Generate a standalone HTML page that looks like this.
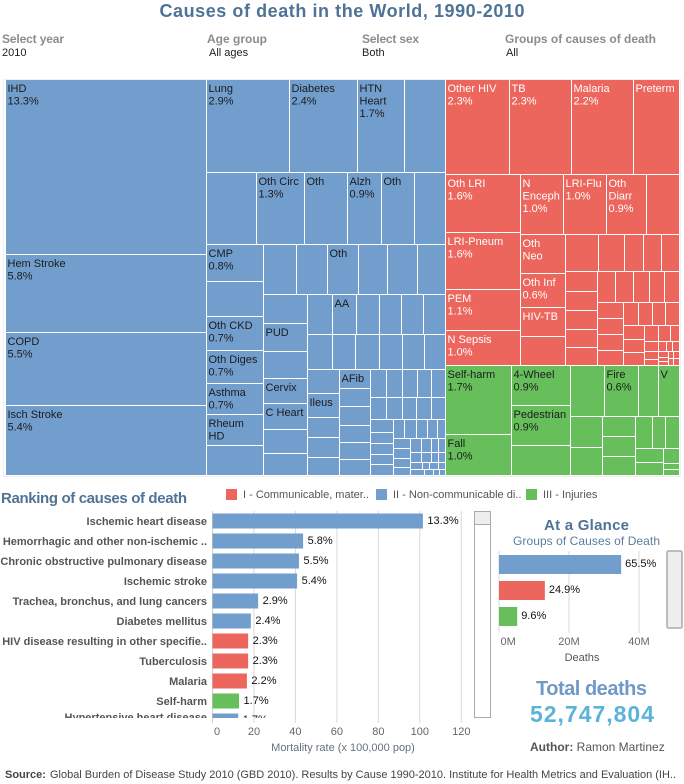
<!DOCTYPE html>
<html lang="en">
<head>
<meta charset="utf-8">
<title>Causes of death in the World, 1990-2010</title>
<style>
html,body{margin:0;padding:0;background:#fff;width:684px;height:784px;overflow:hidden}
svg{display:block;font-family:"Liberation Sans",Arial,sans-serif}
.flabel{font-size:12px;fill:#8c8c8c;font-weight:bold}
.fvalue{font-size:11px;fill:#222}
.heading{font-weight:bold;fill:#4f7396}
.cell{shape-rendering:crispEdges}
</style>
</head>
<body>
<svg id="page" xmlns="http://www.w3.org/2000/svg" width="684" height="784" viewBox="0 0 684 784">
  <defs>
    <clipPath id="rank-clip"><rect x="205" y="511" width="265" height="207"/></clipPath>
    <clipPath id="rank-label-clip"><rect x="0" y="511" width="212" height="207"/></clipPath>
  </defs>

  <text x="342" y="17" text-anchor="middle" class="heading" font-size="18" textLength="365" lengthAdjust="spacing">Causes of death in the World, 1990-2010</text>

  <text x="2" y="43" class="flabel" textLength="62" lengthAdjust="spacing">Select year</text>
  <text x="2" y="56" class="fvalue">2010</text>
  <text x="207" y="43" class="flabel">Age group</text>
  <text x="209" y="56" class="fvalue">All ages</text>
  <text x="362" y="43" class="flabel" textLength="57" lengthAdjust="spacing">Select sex</text>
  <text x="362" y="56" class="fvalue">Both</text>
  <text x="505" y="43" class="flabel" textLength="151" lengthAdjust="spacing">Groups of causes of death</text>
  <text x="506" y="56" class="fvalue">All</text>

  <rect x="3.5" y="79.5" width="677" height="397" fill="#fff" stroke="#eeeeee"/>
  <g id="treemap"></g>

  <text x="1" y="503" class="heading" font-size="15" textLength="186" lengthAdjust="spacing">Ranking of causes of death</text>

  <g font-size="11" fill="#555">
    <rect x="226" y="489" width="11" height="11" fill="#ED665D"/>
    <text x="243" y="498">I - Communicable, mater..</text>
    <rect x="376" y="489" width="11" height="11" fill="#729ECE"/>
    <text x="393" y="498">II - Non-communicable di..</text>
    <rect x="526" y="489" width="11" height="11" fill="#67BF5C"/>
    <text x="543" y="498">III - Injuries</text>
  </g>

  <g id="rank-chart"></g>
  <text x="343" y="751" text-anchor="middle" font-size="11" fill="#66717e">Mortality rate (x 100,000 pop)</text>

  <rect x="474.5" y="511.5" width="16" height="206" fill="#fff" stroke="#aaa"/>
  <rect x="474.5" y="511.5" width="16" height="13" fill="#eeeeee" stroke="#aaa"/>

  <text x="586.5" y="530" text-anchor="middle" class="heading" font-size="15" textLength="85" lengthAdjust="spacing">At a Glance</text>
  <text x="586.5" y="545" text-anchor="middle" font-size="12" fill="#5a7da0" textLength="147" lengthAdjust="spacing">Groups of Causes of Death</text>

  <g id="glance-chart"></g>
  <text x="582" y="661" text-anchor="middle" font-size="11" fill="#555">Deaths</text>

  <rect x="667" y="551" width="15" height="77" rx="1.5" fill="#eeeeee" stroke="#aaa" stroke-width="1.5"/>

  <text x="591.5" y="695" text-anchor="middle" font-size="20" font-weight="bold" fill="#7199c6" textLength="111" lengthAdjust="spacing">Total deaths</text>
  <text x="592" y="722" text-anchor="middle" font-size="23" font-weight="bold" fill="#5ab4d8" textLength="124" lengthAdjust="spacing">52,747,804</text>

  <text x="530" y="751" font-size="12" fill="#555"><tspan font-weight="bold">Author:</tspan> Ramon Martinez</text>

  <text x="5" y="778" font-size="11" fill="#444"><tspan font-weight="bold">Source:</tspan><tspan x="50" textLength="626" lengthAdjust="spacing">Global Burden of Disease Study 2010 (GBD 2010). Results by Cause 1990-2010. Institute for Health Metrics and Evaluation (IH..</tspan></text>
</svg>

<script>
/* ---------- Treemap values: relative death weight of each cell ---------- */
const blueCol1 = [351.75, 154.77, 146.73, 140.7];
const blueCol1Labels = ['IHD\n13.3%', 'Hem Stroke\n5.8%', 'COPD\n5.5%', 'Isch Stroke\n5.4%'];
const blueRowA = [76.725, 63.705, 43.71, 38.13];
const blueRowALabels = ['Lung\n2.9%', 'Diabetes\n2.4%', 'HTN\nHeart\n1.7%', ''];
const blueRowB = [36, 34.56, 30.96, 24.48, 23.76, 22.32];
const blueRowBLabels = ['', 'Oth Circ\n1.3%', 'Oth', 'Alzh\n0.9%', 'Oth', ''];
const blueColC = [20.52, 19.95, 19.38, 18.81, 17.67, 17.67, 17.1];
const blueColCLabels = ['CMP\n0.8%', '', 'Oth CKD\n0.7%', 'Oth Diges\n0.7%', 'Asthma\n0.7%', 'Rheum\nHD', ''];
const blueRowD = [16.17, 15.19, 15.19, 14.21, 14.7, 13.72];
const blueRowDLabels = ['', '', 'Oth', '', '', ''];
const blueColE = [12.76, 12.32, 11.88, 11, 11.44, 10.56, 9.68];
const blueColELabels = ['', 'PUD', '', 'Cervix', 'C Heart', '', ''];
const blueRowF = [10, 9.6, 9.2, 8.8, 8.8, 8.8];
const blueRowFLabels = ['', 'AA', '', '', '', ''];
const blueRowG = [8.75, 8.05, 8.4, 8.05, 7.7, 7.35];
const blueColH = [7.68, 7.68, 6.4, 6.4, 5.76];
const blueColHLabels = ['', 'Ileus', '', '', ''];
const blueColI = [5.89, 5.58, 5.89, 5.27, 5.27, 4.96];
const blueColILabels = ['AFib', '', '', '', '', ''];
const blueRowJ = [4.48, 4.48, 4.2, 3.92, 3.92];
const blueRowK = [3.52, 3.52, 3.08, 3.3, 3.08];
const blueColL = [2.99, 2.53, 2.53, 2.3, 2.53];
const blueRowM = [2.09, 2.28, 2.09, 1.9, 1.52];
const blueColN = [1.7, 1.7, 1.53, 1.36];
const blueRowO = [1.54, 1.4, 0.98, 0.98];
const blueRowP = [1.1, 1.0, 0.7, 0.7];
const blueRowQ = [0.84, 0.49, 0.63, 0.49];
const blueRowR = [0.84, 0.54, 0.36, 0.36];

const redRowA = [60.8, 58.9, 58.9, 43.7];
const redRowALabels = ['Other HIV\n2.3%', 'TB\n2.3%', 'Malaria\n2.2%', 'Preterm'];
const redColC = [43.5, 42, 30.75, 26.25];
const redColCLabels = ['Oth LRI\n1.6%', 'LRI-Pneum\n1.6%', 'PEM\n1.1%', 'N Sepsis\n1.0%'];
const redRowD = [25.8, 25.8, 24, 19.8];
const redRowDLabels = ['N\nEnceph\n1.0%', 'LRI-Flu\n1.0%', 'Oth\nDiarr\n0.9%', ''];
const redColE = [17.55, 14.85, 13.05, 13.05];
const redColELabels = ['Oth\nNeo', 'Oth Inf\n0.6%', 'HIV-TB', ''];
const redRowF = [12.21, 9.62, 7.03, 6.66, 6.66];
const redColH = [6.08, 6.08, 6.08, 5.76, 5.76];
const redRowG = [5.4, 5.4, 4.8, 4.5, 4.5];
const redColI = [4.16, 4.16, 4.16, 3.9];
const redRowJ = [3.45, 3.22, 2.99, 3.22];
const redColK = [2.94, 2.73, 2.73];
const redRowL = [2.24, 1.92, 1.44];
const redColM = [1.4, 1.12, 0.84];
const redRowN = [0.8, 0.6, 0.7];
const redColO = [0.6, 0.4, 0.4];
const redRowP = [0.35, 0.42];
const redRowQ = [0.35, 0.42];

const greenColA = [45.54, 27.06];
const greenColALabels = ['Self-harm\n1.7%', 'Fall\n1.0%'];
const greenColB = [23.6, 23.6, 17.7];
const greenColBLabels = ['4-Wheel\n0.9%', 'Pedestrian\n0.9%', ''];
const greenRowC = [17.34, 17.34, 10.2, 10.71];
const greenRowCLabels = ['', 'Fire\n0.6%', '', 'V'];
const greenColD = [9.92, 8.96];
const greenColE = [6.6, 6.6, 6.27];
const greenRowF = [5.44, 4.16, 4.48];
const greenColG = [3.92, 3.64];
const greenColH = [2.4, 0.96, 0.96];

/* ---------- Ranking bar chart data ---------- */
const rankCauses = ['Ischemic heart disease', 'Hemorrhagic and other non-ischemic ..', 'Chronic obstructive pulmonary disease', 'Ischemic stroke', 'Trachea, bronchus, and lung cancers', 'Diabetes mellitus', 'HIV disease resulting in other specifie..', 'Tuberculosis', 'Malaria', 'Self-harm', 'Hypertensive heart disease'];
const rankRates = [101.5, 43.7, 41.7, 40.8, 22, 18.5, 17.2, 17.2, 16.6, 12.8, 12.4];
const rankShares = ['13.3%', '5.8%', '5.5%', '5.4%', '2.9%', '2.4%', '2.3%', '2.3%', '2.2%', '1.7%', '1.7%'];
const rankGroups = ['II', 'II', 'II', 'II', 'II', 'II', 'I', 'I', 'I', 'III', 'II'];
const rankTicks = [0, 20, 40, 60, 80, 100, 120];

/* ---------- At-a-glance bar chart data ---------- */
const glanceGroups = ['II', 'I', 'III'];
const glanceDeaths = [34.9, 13.1, 5.2];
const glanceShares = ['65.5%', '24.9%', '9.6%'];
const glanceTicks = [0, 20, 40];

const groupColors = { I: '#ED665D', II: '#729ECE', III: '#67BF5C' };
const SVGNS = 'http://www.w3.org/2000/svg';

function mk(tag, attrs, parent) {
  const el = document.createElementNS(SVGNS, tag);
  for (const k in attrs) el.setAttribute(k, attrs[k]);
  parent.appendChild(el);
  return el;
}

/* ---------- Treemap layout: each node is sized by the sum of its leaves ---------- */
function H() { return { dir: 'h', kids: [...arguments] }; }
function V() { return { dir: 'v', kids: [...arguments] }; }
function strip(dir, values, labels) {
  return { dir: dir, kids: values.map((v, i) => ({ value: v, label: labels ? labels[i] : '' })) };
}
function total(n) {
  return n.kids ? n.kids.reduce((s, k) => s + total(k), 0) : n.value;
}

const blueTree = H(
  strip('v', blueCol1, blueCol1Labels),
  V(
    strip('h', blueRowA, blueRowALabels),
    strip('h', blueRowB, blueRowBLabels),
    H(
      strip('v', blueColC, blueColCLabels),
      V(
        strip('h', blueRowD, blueRowDLabels),
        H(
          strip('v', blueColE, blueColELabels),
          V(
            strip('h', blueRowF, blueRowFLabels),
            strip('h', blueRowG),
            H(
              strip('v', blueColH, blueColHLabels),
              strip('v', blueColI, blueColILabels),
              V(
                strip('h', blueRowJ),
                strip('h', blueRowK),
                H(
                  strip('v', blueColL),
                  V(
                    strip('h', blueRowM),
                    H(
                      strip('v', blueColN),
                      V(strip('h', blueRowO), strip('h', blueRowP), strip('h', blueRowQ), strip('h', blueRowR))
                    )
                  )
                )
              )
            )
          )
        )
      )
    )
  )
);

const redTree = V(
  strip('h', redRowA, redRowALabels),
  H(
    strip('v', redColC, redColCLabels),
    V(
      strip('h', redRowD, redRowDLabels),
      H(
        strip('v', redColE, redColELabels),
        V(
          strip('h', redRowF),
          H(
            strip('v', redColH),
            V(
              strip('h', redRowG),
              H(
                strip('v', redColI),
                V(
                  strip('h', redRowJ),
                  H(
                    strip('v', redColK),
                    V(
                      strip('h', redRowL),
                      H(
                        strip('v', redColM),
                        V(
                          strip('h', redRowN),
                          H(strip('v', redColO), V(strip('h', redRowP), strip('h', redRowQ)))
                        )
                      )
                    )
                  )
                )
              )
            )
          )
        )
      )
    )
  )
);

const greenTree = H(
  strip('v', greenColA, greenColALabels),
  strip('v', greenColB, greenColBLabels),
  V(
    strip('h', greenRowC, greenRowCLabels),
    H(
      strip('v', greenColD),
      strip('v', greenColE),
      V(strip('h', greenRowF), H(strip('v', greenColG), strip('v', greenColH)))
    )
  )
);

const treemapG = document.getElementById('treemap');

function drawLeaf(leaf, x, y, w, h, color, textColor) {
  const x0 = Math.round(x) + 1, y0 = Math.round(y) + 1;
  const x1 = Math.round(x + w), y1 = Math.round(y + h);
  const r = mk('rect', { x: x0, y: y0, width: Math.max(x1 - x0, 0), height: Math.max(y1 - y0, 0), fill: color, class: 'cell' }, treemapG);
  
  
  if (leaf.label) {
    const t = mk('text', { x: x0 + 1.5, y: y0 + 12, 'font-size': 11, fill: textColor }, treemapG);
    
    
    leaf.label.split('\n').forEach((line, i) => {
      const s = mk('tspan', { x: x0 + 1.5, dy: i ? 12.5 : 0 }, t);
      s.textContent = line;
    });
  }
}

function layout(node, x, y, w, h, color, textColor) {
  if (!node.kids) { drawLeaf(node, x, y, w, h, color, textColor); return; }
  const sum = total(node);
  let pos = 0;
  node.kids.forEach(k => {
    const f = total(k) / sum;
    if (node.dir === 'h') layout(k, x + pos * w, y, w * f, h, color, textColor);
    else layout(k, x, y + pos * h, w, h * f, color, textColor);
    pos += f;
  });
}

/* Overall treemap: blue on the left, red over green on the right */
(function () {
  const X = 5, Y = 79, W = 674, H_ = 396;
  const b = total(blueTree), r = total(redTree), g = total(greenTree);
  const blueW = W * b / (b + r + g);
  const restW = W - blueW;
  const redH = H_ * r / (r + g);
  layout(blueTree, X, Y, blueW, H_, groupColors.II, '#1c1c1c');
  layout(redTree, X + blueW, Y, restW, redH, groupColors.I, '#ffffff');
  layout(greenTree, X + blueW, Y + redH, restW, H_ - redH, groupColors.III, '#1c1c1c');
})();

/* ---------- Ranking bar chart ---------- */
(function () {
  const root = document.getElementById('rank-chart');
  const x0 = 212.5, perUnit = 2.073, yTop = 513.5, pitch = 20, barH = 15;
  const xScale = v => x0 + v * perUnit;
  const yScale = i => yTop + i * pitch;

  rankTicks.forEach(t => {
    const line = mk('line', { x1: xScale(t), x2: xScale(t), y1: 511, y2: 723, stroke: t === 0 ? '#cfcfcf' : '#d9d9d9', 'stroke-width': 1 }, root);
    
    
    const lab = mk('text', { x: t === 0 ? xScale(t) + 1.5 : xScale(t), y: 735, 'text-anchor': t === 0 ? 'start' : 'middle', 'font-size': 11, fill: '#666' }, root);
    lab.textContent = String(t);
    
    
  });

  const barsG = mk('g', { 'clip-path': 'url(#rank-clip)' }, root);
  const labsG = mk('g', { 'clip-path': 'url(#rank-label-clip)' }, root);

  rankCauses.forEach((c, i) => {
    const cy = yScale(i);
    const cat = mk('text', { x: 207, y: Math.min(cy + 11.5, 721), 'text-anchor': 'end', 'font-size': 11, 'font-weight': 'bold', fill: '#555' }, labsG);
    cat.textContent = c;
    
    

    const bar = mk('rect', { x: x0, y: cy, width: rankRates[i] * perUnit, height: barH, fill: groupColors[rankGroups[i]] }, barsG);
    
    

    const val = mk('text', { x: xScale(rankRates[i]) + 4.5, y: Math.min(cy + 10.5, 723), 'font-size': 11, fill: '#111' }, barsG);
    val.textContent = rankShares[i];
    
    
  });
})();

/* ---------- At-a-glance bar chart ---------- */
(function () {
  const root = document.getElementById('glance-chart');
  const x0 = 499, perM = 3.5, yTop = 555, pitch = 26, barH = 19;
  const xScale = v => x0 + v * perM;

  glanceTicks.forEach(t => {
    const line = mk('line', { x1: xScale(t), x2: xScale(t), y1: 551, y2: 633, stroke: '#d9d9d9', 'stroke-width': 1 }, root);
    
    
    const lab = mk('text', { x: t === 0 ? xScale(t) + 1.5 : xScale(t), y: 645, 'text-anchor': t === 0 ? 'start' : 'middle', 'font-size': 11, fill: '#666' }, root);
    lab.textContent = t + 'M';
    
    
  });

  glanceGroups.forEach((g, i) => {
    const y = yTop + i * pitch;
    const bar = mk('rect', { x: x0, y: y, width: glanceDeaths[i] * perM, height: barH, fill: groupColors[g] }, root);
    
    
    const val = mk('text', { x: xScale(glanceDeaths[i]) + 4, y: y + 12, 'font-size': 11, fill: '#111' }, root);
    val.textContent = glanceShares[i];
    
    
  });
})();
</script>
</body>
</html>
